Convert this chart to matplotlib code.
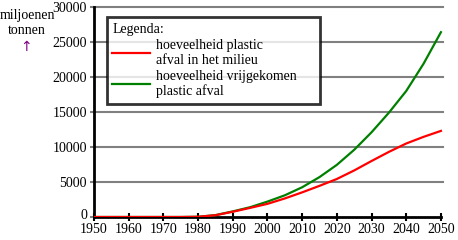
import numpy as np
import matplotlib.pyplot as plt
from matplotlib.transforms import ScaledTranslation

plt.rcParams['font.family'] = ['Liberation Serif', 'DejaVu Serif']

# data
years = [1950, 1955, 1960, 1965, 1970, 1975, 1980, 1985, 1990, 1995, 2000,
         2005, 2010, 2015, 2020, 2025, 2030, 2035, 2040, 2045, 2050]
milieu = [0, 0, 0, 0, 0, 0, 30, 250, 750, 1300, 1880,
          2650, 3520, 4450, 5430, 6650, 8000, 9300, 10500, 11450, 12300]
vrijgekomen = [0, 0, 0, 0, 0, 0, 30, 270, 800, 1400, 2200,
               3100, 4250, 5700, 7450, 9600, 12100, 14900, 18000, 21900, 26400]
labels = ['hoeveelheid plastic\nafval in het milieu',
          'hoeveelheid vrijgekomen\nplastic afval']
xticks = list(range(1950, 2051, 10))
yticks = list(range(0, 30001, 5000))

fig = plt.figure(figsize=(4.58, 2.40), dpi=100)
ax = fig.add_axes([94/458, 1 - 217/240, 349/458, 210/240])

for y in yticks[1:]:
    ax.axhline(y, color='#808080', lw=1.5, zorder=1, clip_on=False)

ax.plot(years, vrijgekomen, color='#008000', lw=1.6, label=labels[1], zorder=3)
ax.plot(years, milieu, color='#ff0000', lw=1.6, label=labels[0], zorder=4)

ax.set_xlim(1950, 2050.6)
ax.set_ylim(0, 30000)
ax.set_xticks(xticks)
ax.set_yticks(yticks)
ax.spines['top'].set_visible(False)
ax.spines['right'].set_visible(False)
ax.spines['left'].set_linewidth(2)
ax.spines['bottom'].set_linewidth(2)
ax.spines['bottom'].set_bounds(1950, 2050)
ax.tick_params(axis='x', direction='inout', length=6, width=1.5, color='black',
               labelsize=10, pad=1.5)
ax.tick_params(axis='y', direction='out', length=3, width=1.5, color='#808080',
               labelsize=10, pad=2)
# lift the "0" a little so it clears "1950"
lab0 = ax.get_yticklabels()[0]
lab0.set_transform(lab0.get_transform() + ScaledTranslation(0, 3/100, fig.dpi_scale_trans))

h = ax.get_legend_handles_labels()
leg = ax.legend([h[0][1], h[0][0]], [h[1][1], h[1][0]], title='Legenda:',
                loc='upper left', bbox_to_anchor=(0.037, 0.952, 0.611, 0.0),
                mode='expand', fontsize=10, title_fontsize=10, frameon=True,
                fancybox=False, handlelength=2.7, handletextpad=0.4,
                labelspacing=0.25, borderpad=0.4, borderaxespad=0)
leg._legend_box.align = 'left'
leg.get_frame().set_edgecolor('black')
leg.get_frame().set_linewidth(2)
for t in leg.get_texts():
    t.set_linespacing(1.15)

fig.text(27/458, 1 - 23/240, 'miljoenen\ntonnen', ha='center', va='center',
         fontsize=10, linespacing=1.15)
fig.text(26/458, 1 - 47/240, '\u2191', ha='center', va='center', fontsize=10,
         color='#800080', family=['DejaVu Sans'])

fig.savefig('out.png', dpi=100)
